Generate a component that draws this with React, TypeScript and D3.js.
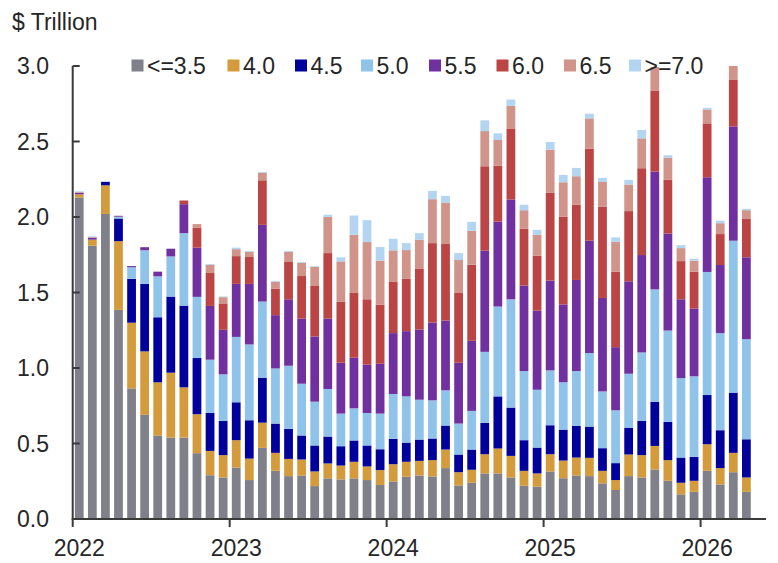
import React from 'react';
import * as d3 from 'd3';

// Coupon buckets (legend order, bottom to top of each stack)
const keys = ['<=3.5', '4.0', '4.5', '5.0', '5.5', '6.0', '6.5', '>=7.0'];
const colors = ['#7f8089', '#d39b3b', '#00009b', '#8fc3ea', '#7030a0', '#bb4545', '#d0948b', '#b3d5f1'];

// Monthly values, $ trillion, Jan 2022 .. Apr 2026
const le35 = [2.13, 1.81, 2.02, 1.385, 0.865, 0.69, 0.553, 0.539, 0.539, 0.436, 0.29, 0.275,
  0.341, 0.258, 0.471, 0.319, 0.284, 0.288, 0.218, 0.269, 0.262, 0.269, 0.258, 0.225,
  0.249, 0.28, 0.288, 0.282, 0.337, 0.222, 0.24, 0.302, 0.302, 0.275, 0.22, 0.214,
  0.315, 0.27, 0.288, 0.284, 0.236, 0.192, 0.284, 0.275, 0.328, 0.253, 0.163, 0.18,
  0.319, 0.229, 0.31, 0.18];
const c40 = [0.02, 0.04, 0.19, 0.455, 0.435, 0.42, 0.352, 0.43, 0.333, 0.258, 0.161, 0.148,
  0.181, 0.142, 0.167, 0.119, 0.114, 0.106, 0.097, 0.099, 0.092, 0.11, 0.09, 0.099,
  0.114, 0.099, 0.097, 0.108, 0.123, 0.088, 0.086, 0.127, 0.165, 0.143, 0.099, 0.088,
  0.114, 0.117, 0.119, 0.121, 0.083, 0.066, 0.143, 0.148, 0.156, 0.137, 0.077, 0.073,
  0.176, 0.108, 0.128, 0.095];
const c45 = [0, 0, 0.022, 0.15, 0.29, 0.447, 0.431, 0.504, 0.541, 0.372, 0.251, 0.227,
  0.251, 0.254, 0.298, 0.194, 0.199, 0.159, 0.172, 0.178, 0.128, 0.141, 0.139, 0.138,
  0.168, 0.127, 0.141, 0.143, 0.159, 0.117, 0.134, 0.207, 0.345, 0.32, 0.203, 0.171,
  0.192, 0.205, 0.209, 0.207, 0.15, 0.112, 0.178, 0.226, 0.291, 0.253, 0.167, 0.159,
  0.326, 0.251, 0.399, 0.253];
const c50 = [0, 0, 0, 0.012, 0.077, 0.223, 0.271, 0.266, 0.48, 0.405, 0.353, 0.308,
  0.433, 0.502, 0.504, 0.365, 0.418, 0.343, 0.29, 0.315, 0.216, 0.213, 0.215, 0.236,
  0.297, 0.306, 0.264, 0.253, 0.233, 0.205, 0.256, 0.471, 0.595, 0.717, 0.458, 0.383,
  0.363, 0.314, 0.364, 0.487, 0.376, 0.35, 0.357, 0.454, 0.746, 0.605, 0.526, 0.533,
  0.815, 0.643, 1.006, 0.663];
const c55 = [0.01, 0.012, 0, 0.006, 0.008, 0.02, 0.031, 0.051, 0.192, 0.326, 0.356, 0.295,
  0.351, 0.401, 0.508, 0.353, 0.44, 0.432, 0.432, 0.467, 0.337, 0.335, 0.32, 0.33,
  0.403, 0.432, 0.465, 0.515, 0.462, 0.403, 0.464, 0.67, 0.563, 0.661, 0.566, 0.524,
  0.595, 0.515, 0.603, 0.744, 0.619, 0.418, 0.612, 0.645, 0.78, 0.643, 0.522, 0.449,
  0.627, 0.451, 0.757, 0.542];
const c60 = [0, 0, 0, 0, 0, 0, 0, 0, 0.022, 0.133, 0.218, 0.171,
  0.184, 0.178, 0.295, 0.176, 0.247, 0.281, 0.334, 0.433, 0.403, 0.429, 0.433, 0.392,
  0.339, 0.346, 0.401, 0.526, 0.507, 0.462, 0.504, 0.559, 0.37, 0.467, 0.376, 0.364,
  0.583, 0.58, 0.498, 0.61, 0.603, 0.5, 0.465, 0.575, 0.537, 0.355, 0.253, 0.244,
  0.357, 0.205, 0.311, 0.257];
const c65 = [0.005, 0.005, 0, 0, 0, 0, 0, 0, 0.005, 0.023, 0.055, 0.045,
  0.046, 0.035, 0.051, 0.046, 0.068, 0.088, 0.126, 0.24, 0.268, 0.385, 0.379, 0.291,
  0.209, 0.191, 0.193, 0.291, 0.275, 0.218, 0.225, 0.233, 0.17, 0.154, 0.123, 0.138,
  0.284, 0.229, 0.189, 0.2, 0.165, 0.198, 0.176, 0.198, 0.155, 0.147, 0.086, 0.073,
  0.092, 0.072, 0.089, 0.055];
const ge70 = [0.005, 0.005, 0.006, 0, 0, 0, 0, 0, 0, 0, 0.005, 0.005,
  0.01, 0.005, 0.005, 0.005, 0.005, 0.005, 0.005, 0.014, 0.027, 0.128, 0.145, 0.09,
  0.077, 0.046, 0.044, 0.055, 0.044, 0.046, 0.059, 0.071, 0.044, 0.041, 0.036, 0.033,
  0.051, 0.048, 0.055, 0.031, 0.027, 0.029, 0.031, 0.055, 0, 0.016, 0.02, 0.013,
  0.011, 0.016, 0, 0.009];

const yTicks = [0, 0.5, 1.0, 1.5, 2.0, 2.5, 3.0];
const yearLabels = ['2022', '2023', '2024', '2025', '2026'];
const yUnit = '$ Trillion';

const series = [le35, c40, c45, c50, c55, c60, c65, ge70];

const FONT = '"Liberation Sans", Arial, Helvetica, sans-serif';
const TXT = '#262626';
const AX = '#3a3a3a';

export default function App() {
  const W = 778, H = 563;
  const X0 = 72.7, X1 = 766, Y0 = 519, Y1 = 66;
  const n = le35.length;
  const slots = n + 1; // axis extends one extra month
  const x = d3.scaleBand<number>().domain(d3.range(slots)).range([X0, X1]).paddingInner(0.33).paddingOuter(0.165);
  const xl = d3.scaleLinear().domain([0, slots]).range([X0, X1]);
  const y = d3.scaleLinear().domain([0, 3]).range([Y0, Y1]);

  const rows = d3.range(n).map((i) => {
    const r: any = { i };
    keys.forEach((k, j) => { r[k] = series[j][i]; });
    return r;
  });
  const stacked = d3.stack<any>().keys(keys)(rows);

  const legendX = [131.5, 227.5, 295, 361, 429, 496.5, 564, 629];
  const fs = 23;

  return (
    <svg width={W} height={H} style={{ position: 'absolute', left: 0, top: 0, background: '#fff' }} fontFamily={FONT}>
      <rect x={0} y={0} width={W} height={H} fill="#fff" />
      <text x={12} y={30} fontSize={fs} fill={TXT}>{yUnit}</text>

      {stacked.map((s, j) => (
        <g key={keys[j]} fill={colors[j]}>
          {s.map((d, i) => {
            const h = y(d[0]) - y(d[1]);
            if (h <= 0) return null;
            return <rect key={i} x={x(i)} width={x.bandwidth()} y={y(d[1])} height={h} />;
          })}
        </g>
      ))}

      {/* y axis */}
      <line x1={X0} x2={X0} y1={Y0} y2={y(3)} stroke={AX} strokeWidth={2} />
      {yTicks.map((t) => (
        <g key={t}>
          <line x1={X0} x2={X0 + 7} y1={y(t)} y2={y(t)} stroke={AX} strokeWidth={2} />
          <text x={49} y={y(t)} dy="0.36em" textAnchor="end" fontSize={fs} fill={TXT}>{t.toFixed(1)}</text>
        </g>
      ))}

      {/* x axis */}
      <line x1={X0 - 1} x2={X1} y1={Y0} y2={Y0} stroke={AX} strokeWidth={2} />
      {yearLabels.map((lab, k) => {
        const idx = k * 12;
        return (
          <g key={lab}>
            <line x1={xl(idx)} x2={xl(idx)} y1={Y0} y2={Y0 + 8} stroke={AX} strokeWidth={2} />
            <text x={x(idx)! + x.bandwidth() / 2} y={556} textAnchor="middle" fontSize={fs} fill={TXT}>{lab}</text>
          </g>
        );
      })}

      {/* legend */}
      {keys.map((k, j) => (
        <g key={k}>
          <rect x={legendX[j]} y={59.5} width={12} height={12} fill={colors[j]} />
          <text x={legendX[j] + 15.5} y={73.5} fontSize={fs} fill={TXT}>{k}</text>
        </g>
      ))}
    </svg>
  );
}
